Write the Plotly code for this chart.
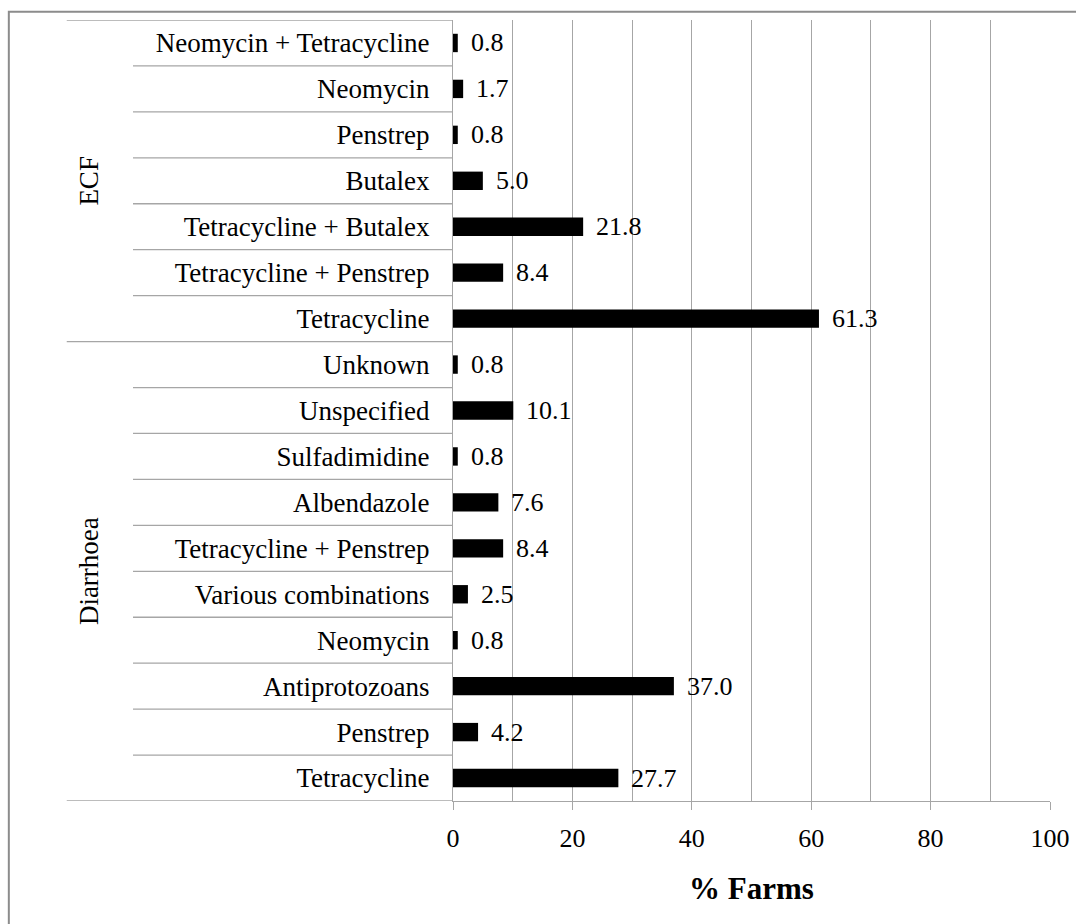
import plotly.graph_objects as go

# ---- data (bottom-to-top order within each group) ----
diarrhoea_labels = ["Tetracycline", "Penstrep", "Antiprotozoans", "Neomycin",
                    "Various combinations", "Tetracycline + Penstrep", "Albendazole",
                    "Sulfadimidine", "Unspecified", "Unknown"]
diarrhoea_values = [27.7, 4.2, 37.0, 0.8, 2.5, 8.4, 7.6, 0.8, 10.1, 0.8]

ecf_labels = ["Tetracycline", "Tetracycline + Penstrep", "Tetracycline + Butalex",
              "Butalex", "Penstrep", "Neomycin", "Neomycin + Tetracycline"]
ecf_values = [61.3, 8.4, 21.8, 5.0, 0.8, 1.7, 0.8]

group_names = ["Diarrhoea", "ECF"]
x_ticks = [0, 20, 40, 60, 80, 100]
x_title = "% Farms"

labels = diarrhoea_labels + ecf_labels
values = diarrhoea_values + ecf_values
pos = list(range(len(labels)))
n_d = len(diarrhoea_labels)
n = len(labels)

FONT = "'Liberation Serif', 'Times New Roman', serif"
GRID = "#a6a6a6"

fig = go.Figure()
fig.add_trace(go.Bar(
    x=values, y=pos, orientation="h",
    marker=dict(color="black", line=dict(width=0)),
    width=0.4, hoverinfo="x+y", showlegend=False,
))

annotations = []
for v, p in zip(values, pos):
    annotations.append(dict(x=v, y=p, xref="x", yref="y", text=f"{v:.1f}",
                            showarrow=False, xanchor="left", yanchor="middle",
                            xshift=11, font=dict(family=FONT, size=26, color="black")))

# group labels
GX = -0.61
annotations.append(dict(x=GX, y=(n_d - 1) / 2, xref="paper", yref="y",
                        text=group_names[0], textangle=-90, showarrow=False,
                        xanchor="center", yanchor="middle",
                        font=dict(family=FONT, size=27, color="black")))
annotations.append(dict(x=GX, y=n_d + (n - n_d - 1) / 2, xref="paper", yref="y",
                        text=group_names[1], textangle=-90, showarrow=False,
                        xanchor="center", yanchor="middle",
                        font=dict(family=FONT, size=27, color="black")))

shapes = []
line_style = dict(color=GRID, width=1.3)
for i in range(n + 1):
    yb = i - 0.5
    outer = (i == 0) or (i == n) or (i == n_d)
    x0 = -0.647 if outer else -0.536
    shapes.append(dict(type="line", xref="paper", yref="y", x0=x0, x1=0,
                       y0=yb, y1=yb, line=line_style, layer="below"))
# outer border
shapes.append(dict(type="rect", xref="paper", yref="paper",
                   x0=-0.744, x1=1.06, y0=-0.17, y1=1.0105,
                   line=dict(color="#8c8c8c", width=2), fillcolor="rgba(0,0,0,0)"))

fig.update_layout(
    width=1076, height=924,
    margin=dict(l=453, r=26, t=20, b=123, autoexpand=False),
    paper_bgcolor="white", plot_bgcolor="white",
    font=dict(family=FONT, size=26, color="black"),
    bargap=0.6,
    annotations=annotations, shapes=shapes,
    xaxis=dict(
        range=[0, 100], tickvals=x_ticks, ticktext=[str(t) for t in x_ticks],
        showgrid=True, gridcolor=GRID, gridwidth=1.3,
        minor=dict(dtick=10, showgrid=True, gridcolor=GRID, gridwidth=1.3, ticks=""),
        showline=True, linecolor=GRID, linewidth=1.3,
        ticks="outside", ticklen=8, tickcolor=GRID, tickwidth=1.3,
        tickfont=dict(family=FONT, size=26, color="black"),
        ticklabelstandoff=6, ticklabeloverflow="allow",
        zeroline=False, fixedrange=True, automargin=False,
        title=dict(text=f"<b>{x_title}</b>", font=dict(family=FONT, size=31, color="black"),
                   standoff=24),
    ),
    yaxis=dict(
        range=[-0.5, n - 0.5], tickvals=pos, ticktext=labels,
        showgrid=False, zeroline=False,
        showline=True, linecolor=GRID, linewidth=1.3,
        ticks="", ticklabelstandoff=17,
        tickfont=dict(family=FONT, size=27, color="black"),
        fixedrange=True, automargin=False,
    ),
)

fig.write_html("out.html", config={"displayModeBar": False},
               post_script="document.body.style.margin='0';document.body.style.overflow='hidden';")
